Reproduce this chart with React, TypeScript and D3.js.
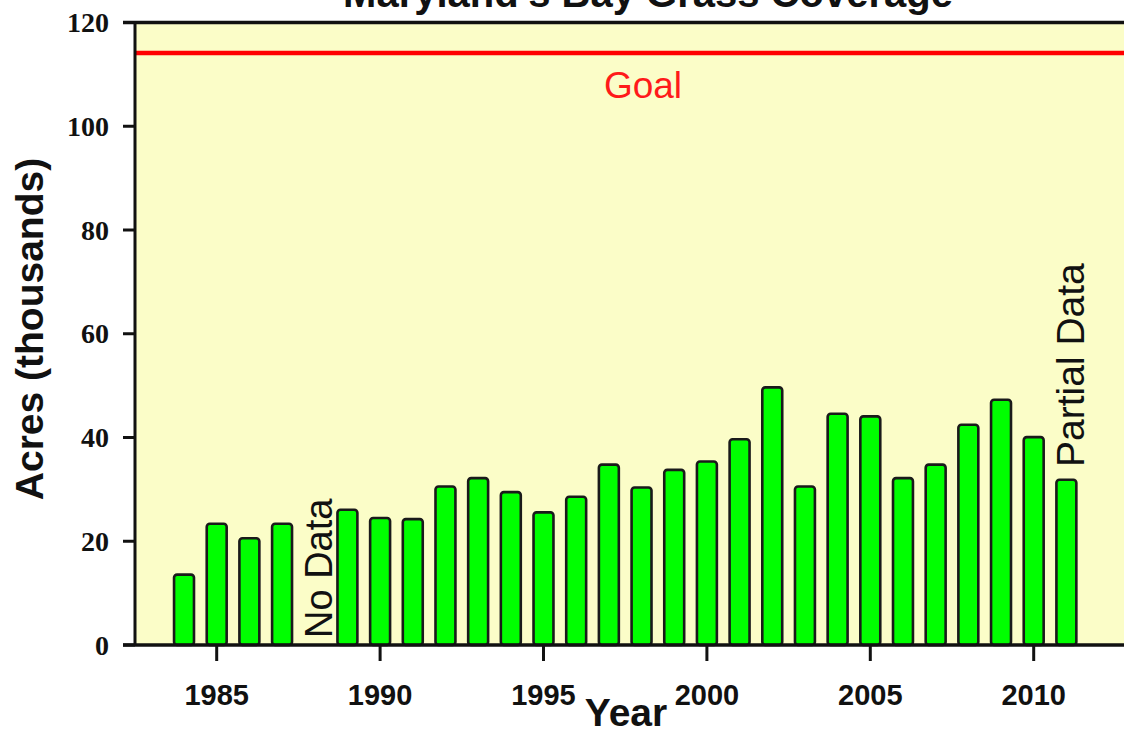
import React from "react";
import * as d3 from "d3";

const years = [1984, 1985, 1986, 1987, 1989, 1990, 1991, 1992, 1993, 1994, 1995, 1996, 1997, 1998, 1999, 2000, 2001, 2002, 2003, 2004, 2005, 2006, 2007, 2008, 2009, 2010, 2011];
const acres = [13.8, 23.6, 20.8, 23.6, 26.3, 24.7, 24.5, 30.8, 32.4, 29.7, 25.8, 28.8, 35.0, 30.6, 34.0, 35.6, 39.9, 49.9, 30.8, 44.8, 44.3, 32.4, 35.0, 42.7, 47.5, 40.3, 32.1];
const goalValue = 114.1;
const xTicks = [1985, 1990, 1995, 2000, 2005, 2010];
const yTicks = [0, 20, 40, 60, 80, 100, 120];
const title = "Maryland's Bay Grass Coverage";
const xTitle = "Year";
const yTitle = "Acres (thousands)";
const goalLabel = "Goal";
const noDataLabel = "No Data";
const noDataYear = 1988;
const partialLabel = "Partial Data";
const partialYear = 2011;

const W = 1124;
const H = 732;
const sans = "'Liberation Sans', Arial, Helvetica, sans-serif";
const serif = "'Liberation Serif', 'Times New Roman', serif";

export default function App() {
  const plotLeft = 135;
  const plotTop = 22.5;
  const plotBottom = 645;
  const x = d3.scaleLinear().domain([1982.5, 1985]).range([plotLeft, 216.7]);
  const y = d3.scaleLinear().domain([0, 120]).range([plotBottom, plotTop]);
  const step = x(1986) - x(1985);
  const barW = step * 0.61;
  const data = years.map((yr, i) => ({ yr, v: acres[i] }));

  return (
    <svg width={W} height={H} style={{ position: "absolute", left: 0, top: 0, background: "#ffffff" }}>
      {/* plot background */}
      <rect x={plotLeft} y={plotTop} width={W - plotLeft} height={plotBottom - plotTop} fill="#fbfdc8" />

      {/* title */}
      <text x={648} y={7} textAnchor="middle" fontFamily={sans} fontWeight="bold" fontSize={40} fill="#111">
        {title}
      </text>

      {/* goal line */}
      <line x1={plotLeft} x2={W} y1={y(goalValue)} y2={y(goalValue)} stroke="#ff0000" strokeWidth={4.5} />
      <text x={643} y={98} textAnchor="middle" fontFamily={sans} fontSize={37} fill="#ff1a1a">
        {goalLabel}
      </text>

      {/* bars */}
      {data.map((d) => (
        <rect
          key={d.yr}
          x={x(d.yr) - barW / 2}
          y={y(d.v) + 1.2}
          width={barW}
          height={y(0) - y(d.v) - 1.2}
          rx={3}
          ry={3}
          fill="#00ff00"
          stroke="#1a1a1a"
          strokeWidth={2.6}
        />
      ))}

      {/* annotations */}
      <text
        transform={`translate(${x(noDataYear) + 17},638) rotate(-90)`}
        fontFamily={sans}
        fontSize={38}
        fill="#111"
        textAnchor="start"
      >
        {noDataLabel}
      </text>
      <text
        transform={`translate(${x(partialYear) + 18},467) rotate(-90)`}
        fontFamily={sans}
        fontSize={39}
        fill="#111"
        textAnchor="start"
      >
        {partialLabel}
      </text>

      {/* axes */}
      <line x1={123} x2={W} y1={plotTop} y2={plotTop} stroke="#111" strokeWidth={3.5} />
      <line x1={123} x2={W} y1={plotBottom} y2={plotBottom} stroke="#111" strokeWidth={3.5} />
      <line x1={plotLeft} x2={plotLeft} y1={plotTop} y2={plotBottom} stroke="#111" strokeWidth={3} />

      {yTicks.map((t) => (
        <g key={t}>
          <line x1={123} x2={plotLeft} y1={y(t)} y2={y(t)} stroke="#111" strokeWidth={3} />
          <text x={109} y={y(t)} dy="0.34em" textAnchor="end" fontFamily={serif} fontWeight="bold" fontSize={28} fill="#111">
            {t}
          </text>
        </g>
      ))}

      {xTicks.map((t) => (
        <g key={t}>
          <line x1={x(t)} x2={x(t)} y1={plotBottom} y2={plotBottom + 16} stroke="#111" strokeWidth={3} />
          <text x={x(t)} y={705} textAnchor="middle" fontFamily={sans} fontWeight="bold" fontSize={29} fill="#111">
            {t}
          </text>
        </g>
      ))}

      <text x={626} y={726} textAnchor="middle" fontFamily={sans} fontWeight="bold" fontSize={39} fill="#111">
        {xTitle}
      </text>
      <text
        transform={`translate(43,329) rotate(-90)`}
        textAnchor="middle"
        fontFamily={sans}
        fontWeight="bold"
        fontSize={39}
        fill="#111"
      >
        {yTitle}
      </text>
    </svg>
  );
}
